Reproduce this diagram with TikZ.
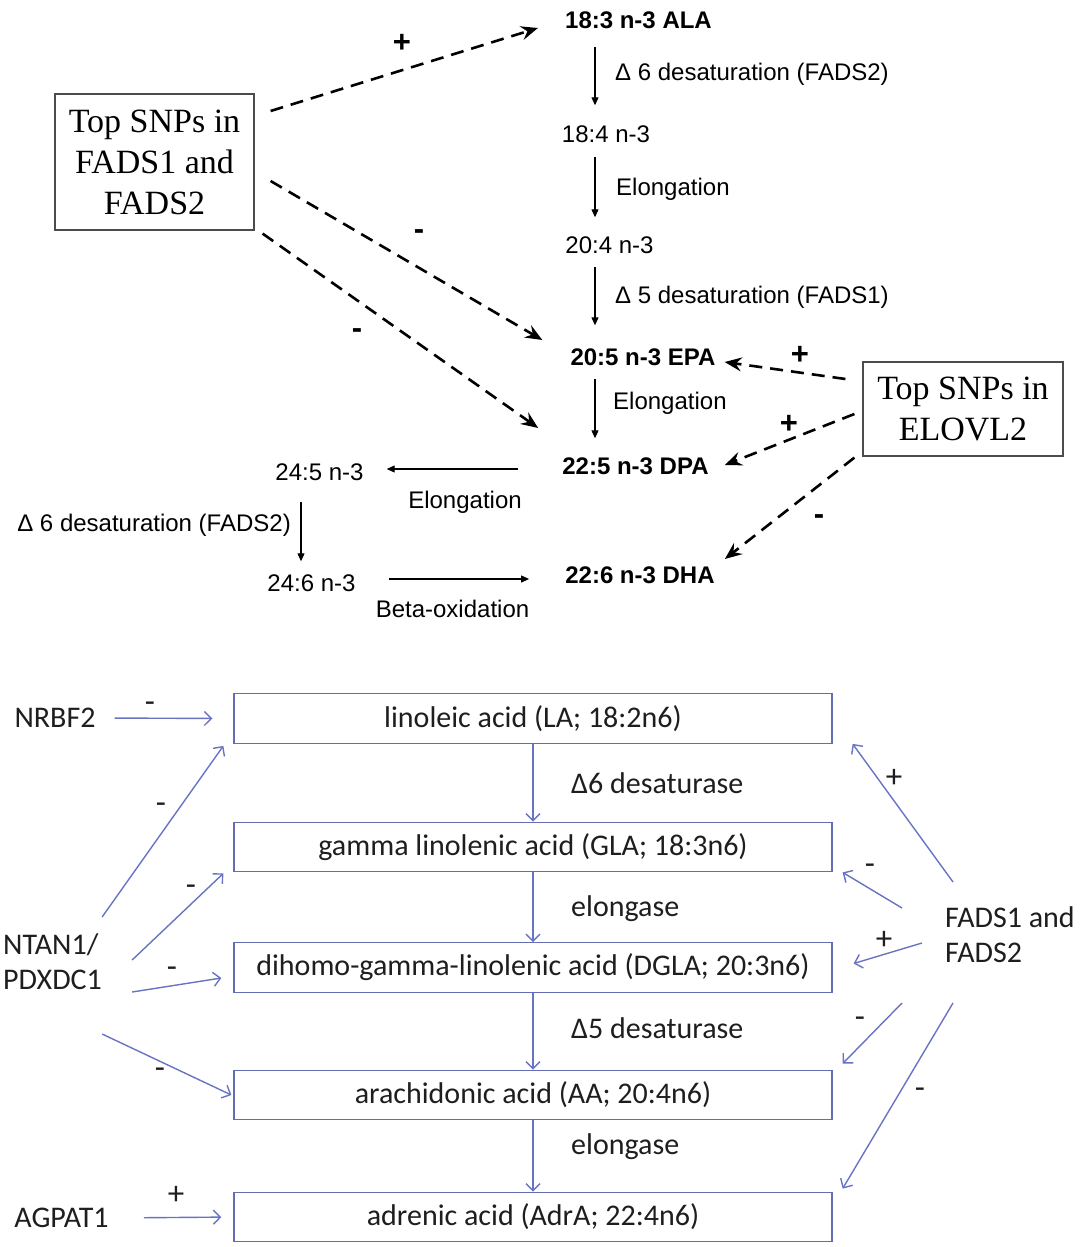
\documentclass[tikz,border=0pt]{standalone}
\usepackage{fontspec}
\setmainfont{Liberation Sans}
\newfontfamily\serifa{Liberation Serif}
\newfontfamily\carl{Carlito}
\usetikzlibrary{arrows.meta,calc}
\definecolor{bl}{RGB}{105,115,195}
\definecolor{bx}{RGB}{100,108,180}
\definecolor{tx}{RGB}{30,30,30}
\begin{document}
\begin{tikzpicture}[x=1pt,y=-1pt,
 tl/.style={inner sep=0pt,text height=17pt,text depth=0pt,font=\fontsize{24}{29}\selectfont},
 tb/.style={inner sep=0pt,text height=17pt,text depth=0pt,font=\fontsize{24}{29}\selectfont\bfseries},
 snp/.style={draw=black!70,line width=1.2pt,font=\serifa\fontsize{34}{41}\selectfont,align=center,inner sep=0pt},
 sarr/.style={line width=1.1pt,-{Triangle[length=8pt,width=7pt]}},
 darr/.style={line width=2.6pt,dash pattern=on 13pt off 8pt,-{Stealth[length=17pt,width=14pt,inset=6pt]}},
 tsign/.style={inner sep=0pt,font=\fontsize{31}{33}\selectfont\bfseries},
 bbox/.style={draw=bx,line width=1.3pt,minimum width=598pt,minimum height=49.5pt,inner sep=0pt,text=tx,font=\carl\fontsize{30}{35}\selectfont},
 bt/.style={inner sep=0pt,text=tx,font=\carl\fontsize{30}{35}\selectfont},
 barr/.style={draw=bl,line width=1.4pt,-{Straight Barb[length=7pt,width=14pt]}},
 bsign/.style={inner sep=0pt,text=tx,font=\carl\fontsize{33}{35}\selectfont}]
\useasboundingbox (0,0) rectangle (1079,1247);

% ---------- top: n-3 pathway ----------
\node[tb] (ala) at (638.5,20) {18:3 n-3 ALA};
\node[tl] (n184) at (606,134) {18:4 n-3};
\node[tl] (n204) at (609.5,245) {20:4 n-3};
\node[tb] (epa) at (643,357) {20:5 n-3 EPA};
\node[tb] (dpa) at (635.5,466) {22:5 n-3 DPA};
\node[tb] (dha) at (640,575) {22:6 n-3 DHA};
\node[tl] (n245) at (319.5,472) {24:5 n-3};
\node[tl] (n246) at (311.5,583) {24:6 n-3};

\node[tl,anchor=west] (lb1) at (615,72) {Δ 6 desaturation (FADS2)};
\node[tl,anchor=west] (lb2) at (616,187) {Elongation};
\node[tl,anchor=west] (lb3) at (615,295) {Δ 5 desaturation (FADS1)};
\node[tl,anchor=west] (lb4) at (613,401) {Elongation};
\node[tl] (lb5) at (465,500) {Elongation};
\node[tl,anchor=east] (lb6) at (291,523) {Δ 6 desaturation (FADS2)};
\node[tl] (lb7) at (452.5,609) {Beta-oxidation};

\node[snp,minimum width=199pt,minimum height=136pt] (fads) at (154.5,162) {Top SNPs in\\FADS1 and\\FADS2};
\node[snp,minimum width=200pt,minimum height=94pt] (elo) at (963,409) {Top SNPs in\\ELOVL2};

\coordinate (ax1) at (595,0);
\coordinate (ax2) at (301,0);
\draw[sarr,shorten <=18pt,shorten >=20pt] (ala.south -| ax1) -- (n184.north -| ax1);
\draw[sarr,shorten <=14pt,shorten >=19pt] (n184.south -| ax1) -- (n204.north -| ax1);
\draw[sarr,shorten <=13pt,shorten >=23pt] (n204.south -| ax1) -- (epa.north -| ax1);
\draw[sarr,shorten <=13pt,shorten >=19pt] (epa.south -| ax1) -- (dpa.north -| ax1);
\draw[sarr] ([shift={(-44,3)}]dpa.west) -- ([shift={(23,-3)}]n245.east);
\draw[sarr,shorten <=21pt,shorten >=13pt] (n245.south -| ax2) -- (n246.north -| ax2);
\draw[sarr] ([shift={(33,-4)}]n246.east) -- ([shift={(-36,4)}]dha.west);

\draw[darr] ([shift={(16,-51)}]fads.east) -- ([shift={(-27,8)}]ala.west);
\draw[darr] ([shift={(16,19)}]fads.east) -- ([shift={(-28,-17)}]epa.west);
\draw[darr] ([shift={(8,3)}]fads.south east) -- ([shift={(-24,-38)}]dpa.west);
\draw[darr] ([shift={(-17,-30)}]elo.west) -- ([shift={(9,5)}]epa.east);
\draw[darr] ([shift={(-8,5)}]elo.west) -- ([shift={(16,-1)}]dpa.east);
\draw[darr] ([shift={(-8,1)}]elo.south west) -- ([shift={(10,-16)}]dha.east);

\node[tsign] (g1) at (402,43) {+};
\node[tsign] (g2) at (419,235) {-};
\node[tsign] (g3) at (357,334) {-};
\node[tsign] (g4) at (800,355) {+};
\node[tsign] (g5) at (789,424) {+};
\node[tsign] (g6) at (819,520) {-};

% ---------- bottom: n-6 pathway ----------
\node[bbox] (la) at (533,718.5) {linoleic acid (LA; 18:2n6)};
\node[bbox] (gla) at (533,847) {gamma linolenic acid (GLA; 18:3n6)};
\node[bbox] (dgla) at (533,967.5) {dihomo-gamma-linolenic acid (DGLA; 20:3n6)};
\node[bbox] (aa) at (533,1095) {arachidonic acid (AA; 20:4n6)};
\node[bbox] (adra) at (533,1217) {adrenic acid (AdrA; 22:4n6)};

\node[bt,anchor=west] (e1) at (571,783) {Δ6 desaturase};
\node[bt,anchor=west] (e2) at (571,909) {elongase};
\node[bt,anchor=west] (e3) at (571,1028) {Δ5 desaturase};
\node[bt,anchor=west] (e4) at (571,1147) {elongase};

\node[bt] (nrbf) at (55,718) {NRBF2};
\node[bt,anchor=west,align=left] (ntan) at (3,961.5) {NTAN1/\\PDXDC1};
\node[bt] (agp) at (61.5,1218) {AGPAT1};
\node[bt,anchor=west,align=left] (fb) at (945,935) {FADS1 and\\FADS2};

\draw[barr] (la) -- (gla);
\draw[barr] (gla) -- (dgla);
\draw[barr] (dgla) -- (aa);
\draw[barr] (aa) -- (adra);

\draw[barr,shorten <=19pt,shorten >=21pt] (nrbf.east) -- (la.west);
\draw[barr] ([shift={(0,-44.5)}]ntan.east) -- ([shift={(-10,2)}]la.south west);
\draw[barr] ([shift={(30,-1.5)}]ntan.east) -- ([shift={(-10,1)}]gla.south west);
\draw[barr] ([shift={(30,30.5)}]ntan.east) -- ([shift={(-12,10.5)}]dgla.west);
\draw[barr] ([shift={(0,72.5)}]ntan.east) -- ([shift={(-2,0)}]aa.west);
\draw[barr,shorten <=35pt,shorten >=12pt] (agp.east) -- (adra.west);

\draw[barr] ([shift={(8,-53)}]fb.west) -- ([shift={(20,0)}]la.south east);
\draw[barr] ([shift={(-43,-27)}]fb.west) -- ([shift={(10,0)}]gla.south east);
\draw[barr] ([shift={(-23,8)}]fb.west) -- ([shift={(21,-4)}]dgla.east);
\draw[barr] ([shift={(-43,68)}]fb.west) -- ([shift={(10,-6)}]aa.north east);
\draw[barr] ([shift={(8,68)}]fb.west) -- ([shift={(10,-3)}]adra.north east);

\node[bsign] (h1) at (150,707) {-};
\node[bsign] (h2) at (161,808) {-};
\node[bsign] (h3) at (191,890) {-};
\node[bsign] (h4) at (172,972) {-};
\node[bsign] (h5) at (160,1073) {-};
\node[bsign] (h6) at (176,1195) {+};
\node[bsign] (h7) at (894,778) {+};
\node[bsign] (h8) at (870,869) {-};
\node[bsign] (h9) at (884,940) {+};
\node[bsign] (h10) at (860,1022) {-};
\node[bsign] (h11) at (920,1093) {-};
\end{tikzpicture}
\end{document}
